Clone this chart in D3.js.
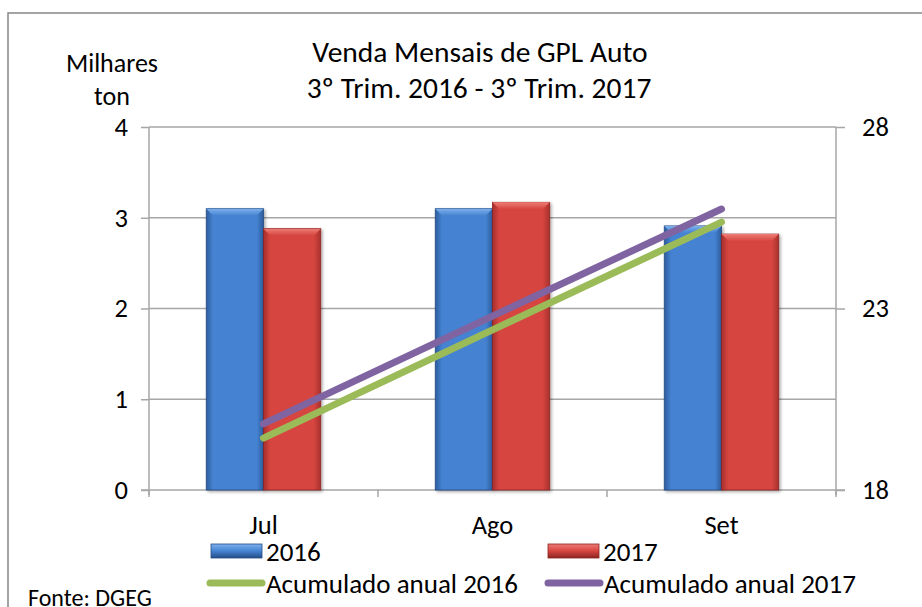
<!DOCTYPE html>
<html>
<head>
<meta charset="utf-8">
<script src="https://cdn.jsdelivr.net/npm/d3@7"></script>
<style>
  body { margin: 0; background: #fff; }
  svg text { font-family: Carlito, Calibri, Lato, sans-serif; fill: #000; }
</style>
</head>
<body>
<svg id="chart" width="922" height="607"></svg>
<script>
const months = ["Jul", "Ago", "Set"]
const series = ["2016", "2017"]
const sales2016 = [3.10, 3.10, 2.91]
const sales2017 = [2.88, 3.17, 2.82]
const acum2016 = [19.43, 22.41, 25.38]
const acum2017 = [19.82, 22.79, 25.74]
const leftTicks = [0, 1, 2, 3, 4]
const rightTicks = [18, 23, 28]

const svg = d3.select("#chart")
const plotLeft = 149, plotRight = 836, plotTop = 127, plotBottom = 490

const x0 = d3.scaleBand().domain(months).range([plotLeft, plotRight])
const x1 = d3.scaleBand().domain(series).range([0, x0.bandwidth()]).paddingOuter(1)
const yL = d3.scaleLinear().domain([0, 4]).range([plotBottom, plotTop])
const yR = d3.scaleLinear().domain([18, 28]).range([plotBottom, plotTop])

const defs = svg.append("defs")
const palette = {
  "2016": {edge: "#2d5c9c", mid: "#4583d2", top: "#7eb0ec", dark: "#244d86"},
  "2017": {edge: "#a8302d", mid: "#d6453f", top: "#ee7c76", dark: "#8c2522"}
}
for (const s of series) {
  const c = palette[s]
  const g = defs.append("linearGradient").attr("id", "body" + s)
    .attr("x1", 0).attr("x2", 1).attr("y1", 0).attr("y2", 0)
  g.append("stop").attr("offset", 0).attr("stop-color", c.edge)
  g.append("stop").attr("offset", 0.12).attr("stop-color", c.mid)
  g.append("stop").attr("offset", 0.88).attr("stop-color", c.mid)
  g.append("stop").attr("offset", 1).attr("stop-color", c.edge)
  const t = defs.append("linearGradient").attr("id", "top" + s)
    .attr("x1", 0).attr("x2", 0).attr("y1", 0).attr("y2", 1)
  t.append("stop").attr("offset", 0).attr("stop-color", c.top)
  t.append("stop").attr("offset", 1).attr("stop-color", c.mid)
  const lg = defs.append("linearGradient").attr("id", "leg" + s)
    .attr("x1", 0).attr("x2", 0).attr("y1", 0).attr("y2", 1)
  lg.append("stop").attr("offset", 0).attr("stop-color", c.top)
  lg.append("stop").attr("offset", 0.5).attr("stop-color", c.mid)
  lg.append("stop").attr("offset", 1).attr("stop-color", c.dark)
}
const shadow = defs.append("filter").attr("id", "shadow")
  .attr("x", "-10%").attr("y", "-10%").attr("width", "130%").attr("height", "130%")
shadow.append("feDropShadow").attr("dx", 1.5).attr("dy", 1.5).attr("stdDeviation", 1.5)
  .attr("flood-color", "#000").attr("flood-opacity", 0.35)

// outer frame
svg.append("rect").attr("x", 8).attr("y", 13).attr("width", 930).attr("height", 620)
  .attr("fill", "none").attr("stroke", "#868686").attr("stroke-width", 1.5)

// gridlines
svg.append("g").selectAll("line").data(leftTicks.slice(1)).join("line")
  .attr("x1", plotLeft).attr("x2", plotRight)
  .attr("y1", d => yL(d)).attr("y2", d => yL(d))
  .attr("stroke", "#a6a6a6").attr("stroke-width", 1.5)

// left axis
const axL = svg.append("g").attr("transform", `translate(${plotLeft},0)`)
  .call(d3.axisLeft(yL).tickValues(leftTicks).tickSize(8).tickPadding(13).tickFormat(d3.format("d")))
axL.select(".domain").remove()
axL.append("line").attr("y1", plotTop).attr("y2", plotBottom + 5).attr("stroke", "#a6a6a6").attr("stroke-width", 1.5)
axL.selectAll(".tick line").attr("stroke", "#a6a6a6").attr("stroke-width", 1.5)
axL.selectAll(".tick text").style("font-size", "26.5px").attr("fill", "#000")

// right axis
const axR = svg.append("g").attr("transform", `translate(${plotRight},0)`)
  .call(d3.axisRight(yR).tickValues(rightTicks).tickSize(9).tickPadding(17))
axR.select(".domain").remove()
axR.append("line").attr("y1", plotTop).attr("y2", plotBottom + 5).attr("stroke", "#a6a6a6").attr("stroke-width", 1.5)
axR.selectAll(".tick line").attr("stroke", "#a6a6a6").attr("stroke-width", 1.5)
axR.selectAll(".tick text").style("font-size", "26.5px").attr("fill", "#000")

// bottom axis
const catEdges = months.map(m => x0(m)).concat([plotRight])
svg.append("line").attr("x1", plotLeft - 8).attr("x2", plotRight + 9).attr("y1", plotBottom).attr("y2", plotBottom)
  .attr("stroke", "#a6a6a6").attr("stroke-width", 1.5)
svg.append("g").selectAll("line").data(catEdges).join("line")
  .attr("x1", d => d).attr("x2", d => d).attr("y1", plotBottom).attr("y2", plotBottom + 7)
  .attr("stroke", "#a6a6a6").attr("stroke-width", 1.5)
svg.append("g").selectAll("text").data(months).join("text")
  .attr("x", d => x0(d) + x0.bandwidth() / 2).attr("y", 534)
  .attr("text-anchor", "middle").style("font-size", "26.5px").text(d => d)

// bars
const barData = []
months.forEach((m, i) => {
  barData.push({month: m, s: "2016", v: sales2016[i]})
  barData.push({month: m, s: "2017", v: sales2017[i]})
})
const bw = x1.bandwidth()
const bars = svg.append("g").selectAll("g").data(barData).join("g")
  .attr("transform", d => `translate(${x0(d.month) + x1(d.s)},${yL(d.v)})`)
bars.append("rect")
  .attr("width", bw).attr("height", d => plotBottom - yL(d.v))
  .attr("fill", d => `url(#body${d.s})`)
  .attr("stroke", d => palette[d.s].dark).attr("stroke-width", 0.8)
  .attr("filter", "url(#shadow)")
bars.append("path")
  .attr("d", `M0,0 L${bw},0 L${bw - 7},7 L7,7 Z`)
  .attr("fill", d => `url(#top${d.s})`)
  .attr("stroke", "none")

// lines
const line = d3.line().x((d, i) => x0(months[i]) + x0.bandwidth() / 2).y(d => yR(d))
const lineSeries = [
  {name: "Acumulado anual 2016", values: acum2016, color: "#9bbb59"},
  {name: "Acumulado anual 2017", values: acum2017, color: "#8064a2"}
]
svg.append("g").selectAll("path").data(lineSeries).join("path")
  .attr("d", d => line(d.values))
  .attr("fill", "none").attr("stroke", d => d.color)
  .attr("stroke-width", 7).attr("stroke-linecap", "round").attr("stroke-linejoin", "round")

// titles
svg.append("text").attr("x", 480).attr("y", 62).attr("text-anchor", "middle")
  .style("font-size", "29.5px").text("Venda Mensais de GPL Auto")
svg.append("text").attr("x", 479).attr("y", 98).attr("text-anchor", "middle")
  .style("font-size", "29.5px").text("3º Trim. 2016 - 3º Trim. 2017")
svg.append("text").attr("x", 112).attr("y", 72).attr("text-anchor", "middle")
  .style("font-size", "26px").text("Milhares")
svg.append("text").attr("x", 112).attr("y", 105).attr("text-anchor", "middle")
  .style("font-size", "26px").text("ton")

// legend
const legBars = [{s: "2016", x: 211}, {s: "2017", x: 548}]
const lb = svg.append("g").selectAll("g").data(legBars).join("g")
  .attr("transform", d => `translate(${d.x},544)`)
lb.append("rect").attr("width", 51).attr("height", 14)
  .attr("fill", d => `url(#leg${d.s})`).attr("stroke", d => palette[d.s].dark).attr("stroke-width", 0.8)
lb.append("text").attr("x", 55).attr("y", 17).style("font-size", "27px").text(d => d.s)

const legLines = [{d: lineSeries[0], x: 207}, {d: lineSeries[1], x: 545}]
const ll = svg.append("g").selectAll("g").data(legLines).join("g")
  .attr("transform", d => `translate(${d.x},583)`)
ll.append("line").attr("x1", 3).attr("x2", 55).attr("y1", 0).attr("y2", 0)
  .attr("stroke", d => d.d.color).attr("stroke-width", 7).attr("stroke-linecap", "round")
ll.append("text").attr("x", 59).attr("y", 10).style("font-size", "27px").text(d => d.d.name)

svg.append("text").attr("x", 28).attr("y", 606).style("font-size", "24px").text("Fonte: DGEG")
</script>
</body>
</html>
